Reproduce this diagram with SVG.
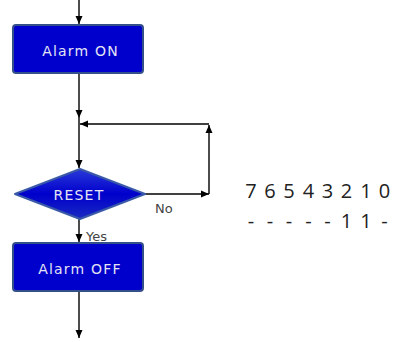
<svg xmlns="http://www.w3.org/2000/svg" width="395" height="342" viewBox="0 0 395 342">
<defs>
<marker id="ah" markerUnits="userSpaceOnUse" markerWidth="9" markerHeight="8" refX="8" refY="4" orient="auto">
<path d="M0,0.5 L8,4 L0,7.5 z" fill="#000"/>
</marker>
<linearGradient id="dg" x1="0" y1="0" x2="0" y2="1">
<stop offset="0" stop-color="#2a3ad8"/>
<stop offset="0.5" stop-color="#0000cc"/>
<stop offset="1" stop-color="#1a2ac0"/>
</linearGradient>
</defs>
<style>
.box{fill:#0000cc;stroke:#34508a;stroke-width:2}
.lbl{font-family:"DejaVu Sans",Verdana,sans-serif;font-size:14px;fill:#e4e4f4;text-anchor:middle;letter-spacing:1.2px}
.edge{stroke:#000;stroke-width:1.4;fill:none;marker-end:url(#ah)}
.elbl{font-family:"DejaVu Sans",Verdana,sans-serif;font-size:13px;fill:#444}
.bits{font-family:"Open Sans","Liberation Sans",sans-serif;font-size:20px;fill:#222;text-anchor:middle}
</style>
<rect width="395" height="342" fill="#fff"/>
<g id="connectors">
<line class="edge" x1="79" y1="0" x2="79" y2="24"/>
<line class="edge" x1="79" y1="73" x2="79" y2="118"/>
<line class="edge" x1="79" y1="118" x2="79" y2="168"/>
<line class="edge" x1="145" y1="194" x2="209" y2="194"/>
<polyline class="edge" points="209,194 209,125"/>
<polyline class="edge" points="209,124 80,124"/>
<line class="edge" x1="79" y1="219" x2="79" y2="242"/>
<line class="edge" x1="79" y1="291" x2="79" y2="338"/>
<text class="elbl" x="155" y="213">No</text>
<text class="elbl" x="86" y="241">Yes</text>
</g>
<g id="alarm-on">
<rect class="box" x="13" y="25" width="130" height="48" rx="3"/>
<text class="lbl" x="80.5" y="56">Alarm ON</text>
</g>
<g id="reset">
<polygon points="15,194 80,169 145,194 80,219" fill="url(#dg)" stroke="#3a5aa8" stroke-width="2" stroke-linejoin="round"/>
<text class="lbl" x="79" y="200">RESET</text>
</g>
<g id="alarm-off">
<rect class="box" x="13" y="243" width="130" height="48" rx="3"/>
<text class="lbl" x="80" y="274">Alarm OFF</text>
</g>
<g id="bits">
<text class="bits" x="251 270 289 308.5 327.5 346.5 366 384.5" y="198">76543210</text>
<text class="bits" x="251 270 289 308.5 327.5 346.5 366 384.5" y="228">-----11-</text>
</g>
</svg>
